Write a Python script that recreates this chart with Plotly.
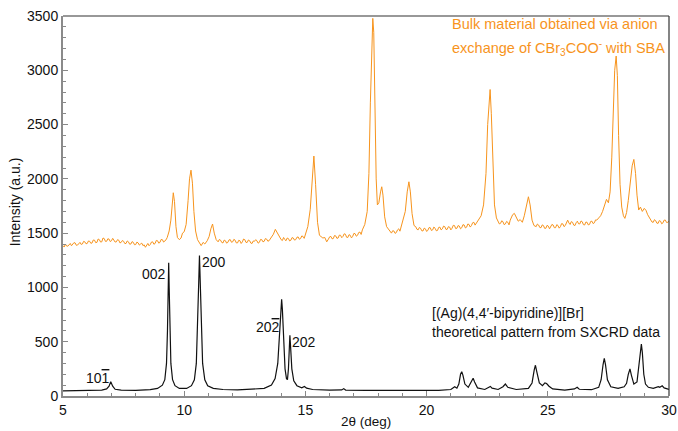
import plotly.graph_objects as go

# ---------------- data ----------------
# Theoretical pattern [(Ag)(4,4'-bipyridine)][Br]
theo_2theta = [
    5.0, 6.0, 6.6, 6.8, 6.9, 6.97, 7.05, 7.15, 7.4, 8.0, 8.6, 8.9,
    9.1, 9.2, 9.27, 9.31, 9.34, 9.36, 9.38, 9.41, 9.45, 9.52, 9.62, 9.8,
    10.1, 10.3, 10.42, 10.5, 10.56, 10.6, 10.63, 10.66, 10.7, 10.76, 10.85, 10.97,
    11.2, 11.6, 12.2, 12.8, 13.3, 13.6, 13.75, 13.86, 13.94, 13.99, 14.02, 14.05,
    14.1, 14.16, 14.22, 14.26, 14.3, 14.33, 14.36, 14.39, 14.44, 14.52, 14.65, 14.85,
    14.96, 15.05, 15.3, 16.0, 16.5, 16.58, 16.66, 17.5, 19.0, 20.5, 21.0, 21.16,
    21.25, 21.33, 21.4, 21.45, 21.5, 21.58, 21.72, 21.85, 21.92, 21.98, 22.1, 22.4,
    22.57, 22.63, 22.7, 22.95, 23.15, 23.25, 23.35, 23.7, 24.2, 24.35, 24.44, 24.49,
    24.54, 24.65, 24.78, 24.88, 24.95, 25.05, 25.2, 25.7, 26.1, 26.21, 26.3, 26.8,
    27.1, 27.2, 27.28, 27.33, 27.38, 27.46, 27.6, 27.9, 28.15, 28.25, 28.32, 28.39,
    28.45, 28.55, 28.68, 28.78, 28.83, 28.86, 28.9, 28.96, 29.03, 29.07, 29.15, 29.35,
    29.5, 29.56, 29.62, 29.72, 29.8, 30.0,
]
theo_intensity = [
    48, 50, 55, 65, 90, 132, 90, 62, 54, 52, 58, 70,
    100, 150, 300, 600, 1000, 1228, 1000, 600, 300, 150, 95, 70,
    70, 95, 150, 300, 650, 1050, 1295, 1050, 650, 300, 150, 95,
    70, 60, 56, 60, 70, 100, 160, 300, 560, 800, 890, 800,
    500, 250, 160, 150, 250, 450, 560, 450, 250, 140, 95, 75,
    88, 72, 60, 54, 56, 68, 55, 52, 50, 51, 60, 86,
    72, 110, 200, 224, 190, 110, 80, 140, 163, 130, 75, 60,
    78, 88, 72, 60, 85, 110, 80, 60, 70, 120, 240, 283,
    230, 120, 95, 120, 115, 90, 65, 55, 65, 80, 62, 58,
    80, 150, 290, 347, 290, 150, 85, 70, 85, 117, 200, 249,
    190, 110, 130, 330, 460, 479, 400, 200, 110, 101, 80, 70,
    82, 86, 80, 94, 75, 60,
]

# Measured bulk material pattern
bulk_2theta = [
    5.0, 5.05, 5.1, 5.15, 5.2, 5.25, 5.3, 5.35, 5.4, 5.45, 5.5, 5.55, 5.6, 5.65, 5.7,
    5.75, 5.8, 5.85, 5.9, 5.95, 6.0, 6.05, 6.1, 6.15, 6.2, 6.25, 6.3, 6.35, 6.4, 6.45,
    6.5, 6.55, 6.6, 6.65, 6.7, 6.75, 6.8, 6.85, 6.9, 6.95, 7.0, 7.05, 7.1, 7.15, 7.2,
    7.25, 7.3, 7.35, 7.4, 7.45, 7.5, 7.55, 7.6, 7.65, 7.7, 7.75, 7.8, 7.85, 7.9, 7.95,
    8.0, 8.05, 8.1, 8.15, 8.2, 8.25, 8.3, 8.35, 8.4, 8.45, 8.5, 8.55, 8.6, 8.65, 8.7,
    8.75, 8.8, 8.85, 8.9, 8.95, 9.0, 9.05, 9.1, 9.15, 9.2, 9.25, 9.3,
    9.38, 9.45, 9.5, 9.55, 9.6, 9.66, 9.72, 9.8, 9.87, 9.93, 10.0, 10.08, 10.16,
    10.22, 10.28, 10.34, 10.4, 10.47, 10.55, 10.62, 10.7, 10.78, 10.85, 10.95,
    11.03, 11.1, 11.17, 11.24, 11.32, 11.4, 11.45, 11.5, 11.55, 11.6, 11.65, 11.7,
    11.75, 11.8, 11.85, 11.9, 11.95, 12.0, 12.05, 12.1, 12.15, 12.2, 12.25, 12.3,
    12.35, 12.4, 12.45, 12.5, 12.55, 12.6, 12.65, 12.7, 12.75, 12.8, 12.85, 12.9,
    12.95, 13.0, 13.05, 13.1, 13.15, 13.2, 13.25, 13.3, 13.35, 13.4, 13.45, 13.5,
    13.55, 13.6, 13.68, 13.76, 13.84, 13.92, 14.0, 14.05, 14.1, 14.15, 14.2, 14.25,
    14.3, 14.35, 14.4, 14.45, 14.5, 14.55, 14.6, 14.65, 14.7, 14.75, 14.8, 14.85,
    14.9, 14.95, 15.0, 15.1, 15.2, 15.28, 15.35, 15.42,
    15.5, 15.58, 15.65, 15.72, 15.8, 15.88, 15.95, 16.0, 16.05, 16.1, 16.15, 16.2,
    16.25, 16.3, 16.35, 16.4, 16.45, 16.5, 16.55, 16.6, 16.65, 16.7, 16.75, 16.8,
    16.85, 16.9, 16.95, 17.0, 17.05, 17.1, 17.15, 17.2, 17.25, 17.3, 17.35, 17.45,
    17.55, 17.62, 17.68, 17.74, 17.78, 17.82, 17.87, 17.92, 17.97, 18.03, 18.1,
    18.15, 18.2, 18.27, 18.35, 18.4, 18.45, 18.5, 18.55, 18.6, 18.65, 18.7, 18.75,
    18.8, 18.85, 18.9, 18.95, 19.05,
    19.12, 19.2, 19.27, 19.33, 19.4, 19.48, 19.55, 19.6, 19.65, 19.7, 19.75, 19.8,
    19.85, 19.9, 19.95, 20.0, 20.05, 20.1, 20.15, 20.2, 20.25, 20.3, 20.35, 20.4,
    20.45, 20.5, 20.55, 20.6, 20.65, 20.7, 20.75, 20.8, 20.85, 20.9, 20.95, 21.0,
    21.05, 21.1, 21.15, 21.2, 21.25, 21.3, 21.35, 21.4, 21.45, 21.5, 21.55, 21.6,
    21.65, 21.7, 21.75, 21.8, 21.85, 21.9, 21.95, 22.0, 22.05, 22.1, 22.15,
    22.25, 22.35, 22.45, 22.52, 22.58, 22.62, 22.67, 22.73, 22.8, 22.88, 22.95,
    23.0, 23.05, 23.1, 23.15, 23.2, 23.25, 23.3, 23.35, 23.4, 23.45, 23.5, 23.55,
    23.62, 23.7, 23.78, 23.86, 23.95,
    24.03, 24.12, 24.2, 24.27, 24.35, 24.43, 24.52, 24.57, 24.62, 24.67, 24.72, 24.77,
    24.82, 24.87, 24.92, 24.97, 25.02, 25.07, 25.12, 25.17, 25.22, 25.27, 25.32, 25.37,
    25.42, 25.47, 25.52, 25.57, 25.62, 25.67, 25.72, 25.77, 25.82, 25.87, 25.92, 25.97,
    26.02, 26.07, 26.12, 26.17, 26.22, 26.27, 26.32, 26.37, 26.42, 26.47, 26.52, 26.57,
    26.62, 26.67, 26.72, 26.77, 26.82, 26.87, 26.92, 26.97, 27.02, 27.1,
    27.18, 27.26, 27.34, 27.42, 27.5, 27.57, 27.64, 27.7, 27.76, 27.82, 27.87,
    27.92, 27.98, 28.05, 28.12, 28.18, 28.25, 28.32, 28.4, 28.48, 28.55, 28.62,
    28.68, 28.75, 28.82, 28.9, 28.98, 29.05, 29.12, 29.2, 29.25, 29.3, 29.35, 29.4,
    29.45, 29.5, 29.55, 29.6, 29.65, 29.7, 29.75, 29.8, 29.85, 29.9, 29.95, 30.0,
]
bulk_intensity = [
    1385, 1372, 1400, 1381, 1380, 1398, 1405, 1384, 1395, 1412, 1410, 1388, 1390, 1405, 1415,
    1396, 1400, 1424, 1420, 1402, 1405, 1428, 1425, 1406, 1410, 1437, 1435, 1412, 1415, 1446,
    1440, 1418, 1420, 1455, 1450, 1424, 1425, 1448, 1445, 1422, 1430, 1452, 1440, 1418, 1420,
    1440, 1435, 1410, 1415, 1432, 1425, 1404, 1405, 1428, 1420, 1398, 1400, 1422, 1415, 1393,
    1395, 1418, 1410, 1390, 1400, 1408, 1385, 1392, 1370, 1388, 1405, 1384, 1395, 1418, 1420,
    1398, 1405, 1433, 1430, 1408, 1415, 1442, 1440, 1418, 1425, 1438, 1460,
    1520, 1620, 1760, 1872, 1790, 1560, 1460, 1440, 1455, 1500, 1513, 1580, 1800,
    2000, 2080, 1960, 1700, 1520, 1440, 1410, 1385, 1415, 1400, 1430,
    1470, 1540, 1584, 1500, 1440, 1420, 1442, 1435, 1414, 1410, 1436, 1430,
    1408, 1415, 1438, 1440, 1416, 1420, 1443, 1435, 1410, 1410, 1434, 1430,
    1405, 1420, 1446, 1440, 1414, 1415, 1437, 1430, 1408, 1405, 1428, 1425,
    1440, 1430, 1408, 1415, 1442, 1440, 1420, 1425, 1450, 1445, 1426, 1430,
    1448, 1460, 1490, 1535, 1500, 1470, 1440, 1432, 1460, 1441, 1430, 1455,
    1450, 1428, 1435, 1459, 1455, 1436, 1440, 1462, 1465, 1444, 1450, 1474,
    1470, 1452, 1490, 1560, 1720, 2000, 2210, 1950,
    1600, 1480, 1470, 1455, 1460, 1420, 1445, 1466, 1470, 1448, 1450, 1478,
    1475, 1452, 1455, 1482, 1480, 1458, 1470, 1494, 1490, 1462, 1460, 1486,
    1480, 1456, 1470, 1498, 1495, 1472, 1480, 1506, 1510, 1488, 1530, 1580,
    1700, 2050, 2700, 3300, 3478, 3350, 2700, 2000, 1760, 1780, 1880,
    1927, 1850, 1650, 1560, 1542, 1530, 1512, 1500, 1522, 1520, 1498, 1505,
    1530, 1540, 1518, 1560, 1620,
    1700, 1880, 1973, 1880, 1680, 1570, 1560, 1536, 1530, 1552, 1545, 1522,
    1520, 1546, 1540, 1516, 1525, 1551, 1550, 1524, 1530, 1556, 1545, 1522,
    1525, 1553, 1555, 1530, 1540, 1565, 1560, 1534, 1535, 1560, 1555, 1530,
    1545, 1572, 1570, 1542, 1545, 1570, 1565, 1540, 1550, 1578, 1575, 1548,
    1555, 1584, 1580, 1556, 1570, 1596, 1600, 1574, 1590, 1612, 1630,
    1660, 1760, 2050, 2500, 2780, 2823, 2600, 2100, 1760, 1640, 1610,
    1585, 1590, 1614, 1605, 1578, 1585, 1608, 1600, 1576, 1620, 1648, 1670,
    1682, 1640, 1610, 1625, 1600,
    1660, 1770, 1835, 1760, 1620, 1570, 1560, 1584, 1575, 1552, 1550, 1576,
    1570, 1544, 1545, 1572, 1565, 1540, 1555, 1580, 1575, 1550, 1550, 1578,
    1570, 1546, 1560, 1588, 1585, 1560, 1570, 1598, 1620, 1594, 1580, 1606,
    1600, 1574, 1570, 1596, 1610, 1586, 1585, 1612, 1605, 1578, 1575, 1602,
    1600, 1576, 1580, 1608, 1610, 1588, 1595, 1622, 1620, 1640,
    1660, 1700, 1760, 1811, 1780, 1880, 2200, 2650, 3000, 3131, 2950,
    2400, 1950, 1740, 1660, 1636, 1690, 1800, 1980, 2120, 2179, 2050,
    1850, 1713, 1740, 1700, 1728, 1710, 1670, 1636, 1628, 1602, 1600, 1624,
    1615, 1592, 1590, 1616, 1610, 1586, 1595, 1620, 1620, 1598, 1600, 1610,
]

# Peak labels (Miller indices) for the theoretical pattern
hkl_labels = ['10<span style="text-decoration:overline">1</span>', "002", "200",
              '20<span style="text-decoration:overline">2</span>', "202"]
hkl_2theta = [7.03, 9.34, 10.66, 14.05, 14.38]
hkl_intensity = [166, 1123, 1234, 635, 497]
hkl_anchor = ["right", "right", "left", "right", "left"]

ORANGE = "#F7941D"
FONT = "Liberation Sans, Arial, sans-serif"

fig = go.Figure()
fig.add_trace(go.Scatter(x=bulk_2theta, y=bulk_intensity, mode="lines",
                         line=dict(color=ORANGE, width=1), showlegend=False))
fig.add_trace(go.Scatter(x=theo_2theta, y=theo_intensity, mode="lines",
                         line=dict(color="#111111", width=1.2), showlegend=False))

for lab, xv, yv, anc in zip(hkl_labels, hkl_2theta, hkl_intensity, hkl_anchor):
    fig.add_annotation(x=xv, y=yv, text=lab, showarrow=False, xanchor=anc,
                       yanchor="middle", font=dict(size=14, color="#111111", family=FONT))

fig.add_annotation(x=0.638, y=0.978, xref="paper", yref="paper", showarrow=False,
                   xanchor="left", yanchor="middle",
                   text="Bulk material obtained via anion",
                   font=dict(size=14.5, color=ORANGE, family=FONT))
fig.add_annotation(x=0.638, y=0.917, xref="paper", yref="paper", showarrow=False,
                   xanchor="left", yanchor="middle",
                   text="exchange of CBr<sub>3</sub>COO<sup>-</sup> with SBA",
                   font=dict(size=14.5, color=ORANGE, family=FONT))
fig.add_annotation(x=0.606, y=0.218, xref="paper", yref="paper", showarrow=False,
                   xanchor="left", yanchor="middle",
                   text="[(Ag)(4,4\u2032-bipyridine)][Br]",
                   font=dict(size=14, color="#111111", family=FONT))
fig.add_annotation(x=0.606, y=0.168, xref="paper", yref="paper", showarrow=False,
                   xanchor="left", yanchor="middle",
                   text="theoretical pattern from SXCRD data",
                   font=dict(size=14, color="#111111", family=FONT))

# axis titles
fig.add_annotation(x=0.5, y=-0.068, xref="paper", yref="paper", showarrow=False,
                   xanchor="center", yanchor="middle", text="2\u03b8 (deg)",
                   font=dict(size=13.5, color="#111111", family=FONT))
fig.add_annotation(x=-0.079, y=0.51, xref="paper", yref="paper", showarrow=False,
                   xanchor="center", yanchor="middle", text="Intensity (a.u.)",
                   textangle=-90, font=dict(size=14, color="#111111", family=FONT))

# top and right frame lines (thin dark)
fig.add_shape(type="line", xref="paper", yref="paper", x0=0, x1=1, y0=1, y1=1,
              line=dict(color="#333333", width=1.2))
fig.add_shape(type="line", xref="paper", yref="paper", x0=1, x1=1, y0=0, y1=1,
              line=dict(color="#333333", width=1.2))

fig.update_layout(
    width=678, height=431,
    margin=dict(l=63, r=9, t=16, b=35),
    paper_bgcolor="white", plot_bgcolor="white",
    font=dict(family=FONT, size=13, color="#111111"),
    xaxis=dict(range=[5, 30], tickvals=[5, 10, 15, 20, 25, 30],
               ticks="inside", ticklen=5, tickcolor="#888888", tickwidth=1,
               minor=dict(dtick=1, tick0=5, ticks="inside", ticklen=3, tickcolor="#888888"),
               showline=True, linecolor="#8a8a8a", linewidth=2,
               showgrid=False, zeroline=False, automargin=False,
               tickfont=dict(size=14)),
    yaxis=dict(range=[0, 3500], tickvals=[0, 500, 1000, 1500, 2000, 2500, 3000, 3500],
               ticks="inside", ticklen=5, tickcolor="#888888", tickwidth=1,
               minor=dict(dtick=100, tick0=0, ticks="inside", ticklen=3, tickcolor="#888888"),
               showline=True, linecolor="#8a8a8a", linewidth=2,
               showgrid=False, zeroline=False, automargin=False,
               tickfont=dict(size=14)),
)

fig.write_html("out.html")
